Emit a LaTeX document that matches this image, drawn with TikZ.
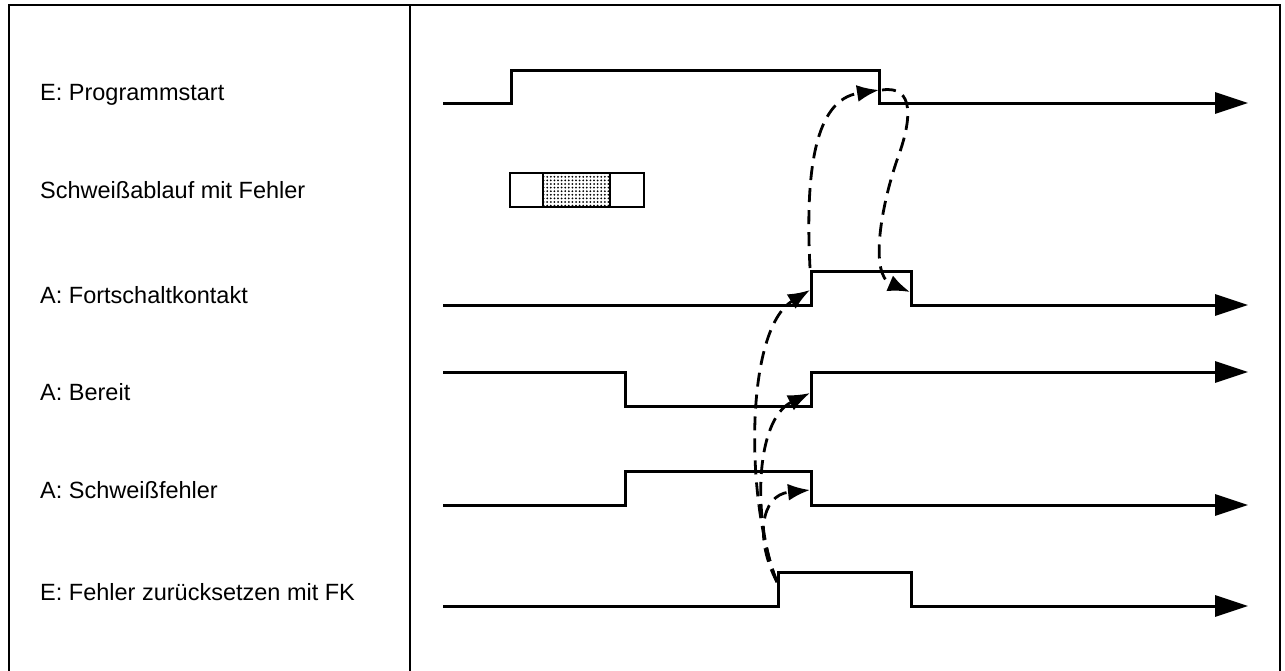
\documentclass[tikz,border=0pt]{standalone}
\usepackage{fontspec}
\setmainfont{Liberation Sans}
\usetikzlibrary{arrows.meta,patterns.meta}
\begin{document}
\begin{tikzpicture}[x=1pt,y=-1pt,
  frame/.style={line width=1.5pt},
  sig/.style={line width=3pt,line join=miter,-{Triangle[length=33pt,width=21pt]}},
  lbl/.style={anchor=base west,inner sep=0pt,font=\fontsize{23.5}{28}\selectfont},
  dep/.style={line width=2.8pt,dash pattern=on 14pt off 8pt,-{Latex[length=22pt,width=17pt]}},
  seqbox/.style={line width=2.4pt}]
\useasboundingbox (0,0) rectangle (1285,670);
% frame
\draw[frame] (9,690) -- (9,5) -- (1280,5) -- (1280,690);
\draw[frame] (410,5) -- (410,690);
% labels
\node[lbl] (l1) at (40,100) {E: Programmstart};
\node[lbl] (l2) at (40,198) {Schweißablauf mit Fehler};
\node[lbl] (l3) at (40,303) {A: Fortschaltkontakt};
\node[lbl] (l4) at (40,400) {A: Bereit};
\node[lbl] (l5) at (40,498) {A: Schweißfehler};
\node[lbl] (l6) at (40,600) {E: Fehler zurücksetzen mit FK};
% signals
\draw[sig] (443,103) -- (511,103) -- (511,70) -- (879,70) -- (879,103) -- (1248,103);
\draw[sig] (443,305) -- (811,305) -- (811,271) -- (911,271) -- (911,305) -- (1248,305);
\draw[sig] (443,372) -- (625,372) -- (625,406) -- (811,406) -- (811,372) -- (1248,372);
\draw[sig] (443,505) -- (625,505) -- (625,471) -- (811,471) -- (811,505) -- (1248,505);
\draw[sig] (443,606) -- (778,606) -- (778,572) -- (911,572) -- (911,606) -- (1248,606);
% sequence box
\fill[pattern={Dots[distance=3.6pt,radius=1pt]}] (543,173) rectangle (610,207);
\draw[seqbox] (510,173) rectangle (644,207);
\draw[seqbox] (543,173) -- (543,207);
\draw[seqbox] (610,173) -- (610,207);
% edge coordinates
\coordinate (psFall) at (879,90);
\coordinate (psFallR) at (882,90);
\coordinate (fkRise) at (810,290);
\coordinate (fkRiseTop) at (810,268);
\coordinate (fkFall) at (910,292);
\coordinate (brRise) at (810,393);
\coordinate (sfFall) at (810,490);
\coordinate (fzRise) at (777,582);
% dependencies
\draw[dep] (fzRise) .. controls (745,500) and (745,330) .. (fkRise);
\draw[dep] (fzRise) .. controls (752,520) and (755,420) .. (brRise);
\draw[dep] (fzRise) .. controls (755,540) and (760,495) .. (sfFall);
\draw[dep] (fkRiseTop) .. controls (805,170) and (815,100) .. (psFall);
\draw[dep] (psFallR) .. controls (915,85) and (912,120) .. (897,160)
  .. controls (880,210) and (870,275) .. (fkFall);
\end{tikzpicture}
\end{document}
